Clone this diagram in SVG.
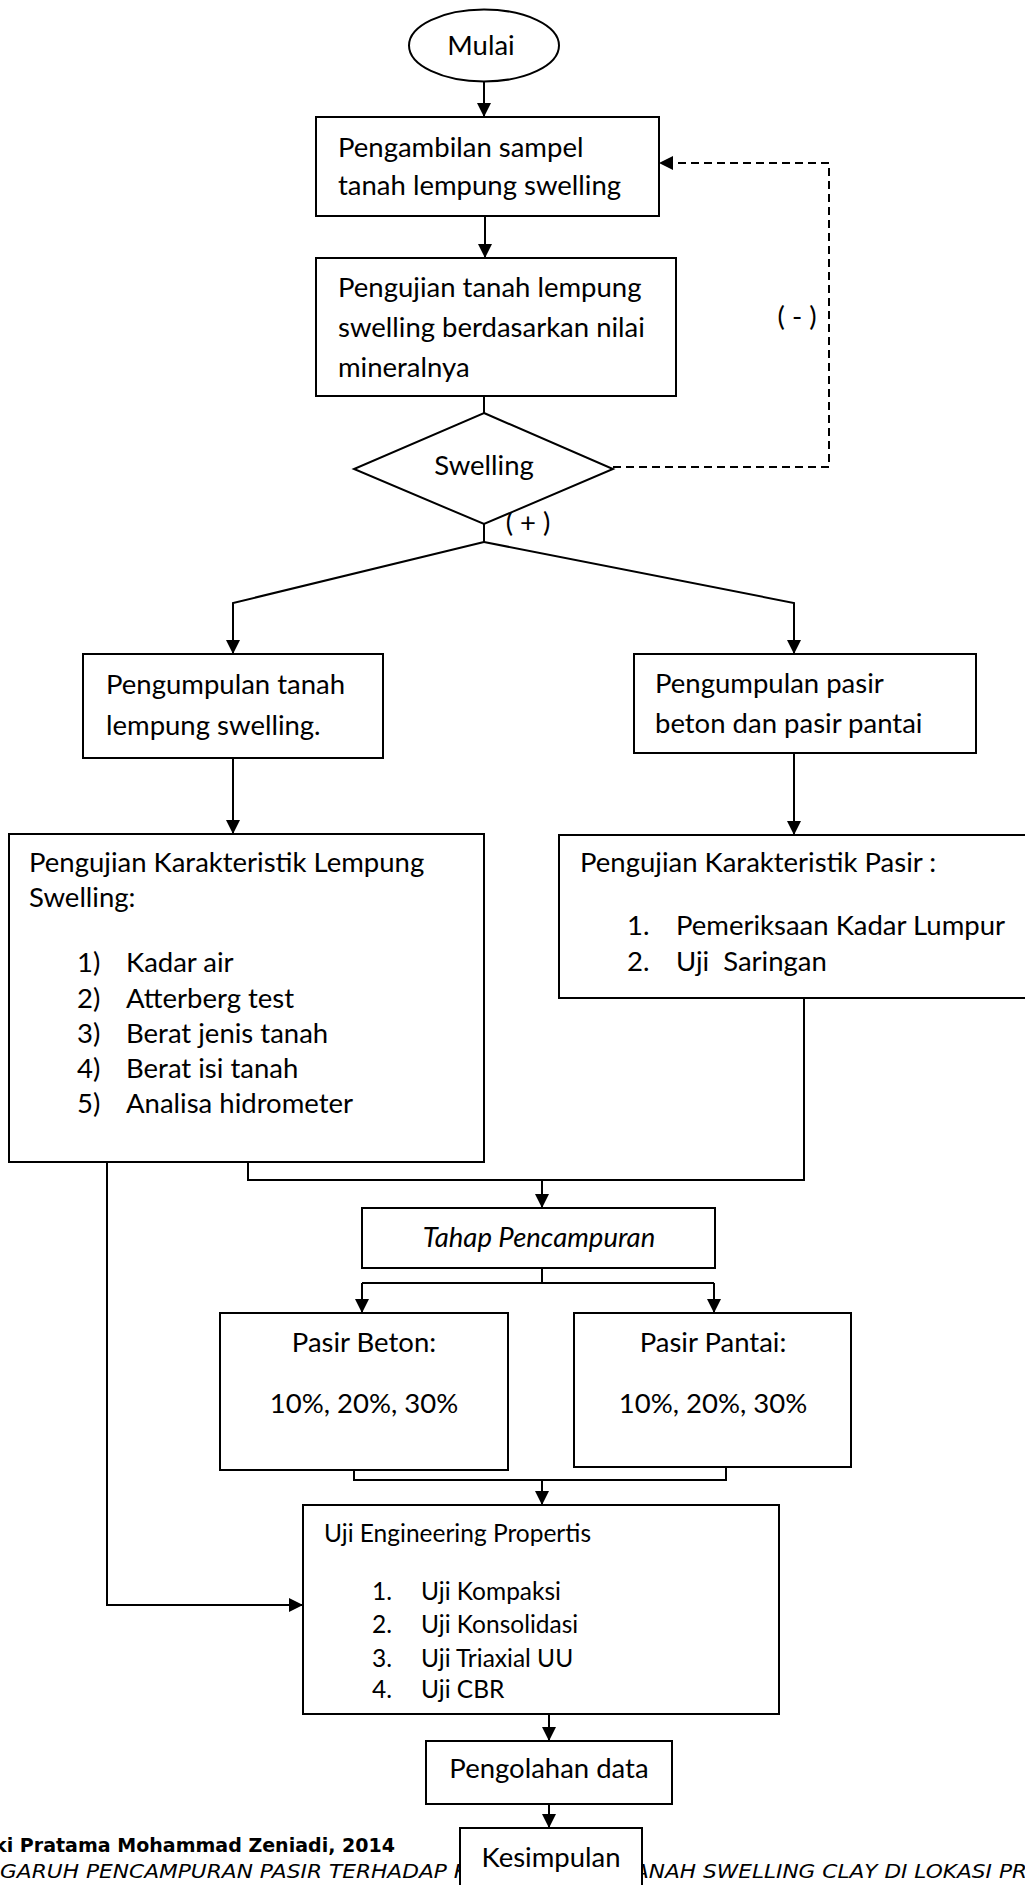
<svg xmlns="http://www.w3.org/2000/svg" width="1025" height="1885" viewBox="0 0 1025 1885">
<style>
.t{font-family:Lato,"Liberation Sans",sans-serif;font-size:27.5px;fill:#000}
.s{font-size:24.5px}
.c{text-anchor:middle}
.box{fill:#fff;stroke:#000;stroke-width:2}
.ln{fill:none;stroke:#000;stroke-width:2}
.dash{fill:none;stroke:#000;stroke-width:2;stroke-dasharray:8 5}
.ft{font-family:"DejaVu Sans",Verdana,sans-serif;fill:#000}
</style>
<defs>
<marker id="ah" viewBox="0 0 14 14" refX="14" refY="7" markerWidth="14" markerHeight="14" markerUnits="userSpaceOnUse" orient="auto">
<path d="M0,0 L14,7 L0,14 z" fill="#000"/>
</marker>
</defs>
<rect width="1025" height="1885" fill="#fff"/>

<g id="footer">
<text class="ft" x="-6" y="1852" font-size="20" font-weight="bold" textLength="401" lengthAdjust="spacingAndGlyphs">ki Pratama Mohammad Zeniadi, 2014</text>
<text class="ft" x="0" y="1878" font-size="20" font-style="italic" textLength="468" lengthAdjust="spacingAndGlyphs">GARUH PENCAMPURAN PASIR TERHADAP K</text>
<text class="ft" x="634" y="1878" font-size="20" font-style="italic" textLength="393" lengthAdjust="spacingAndGlyphs">ANAH SWELLING CLAY DI LOKASI PR</text>
</g>

<g id="connectors">
<path class="ln" d="M484,82 V117" marker-end="url(#ah)"/>
<path class="ln" d="M485,216 V258" marker-end="url(#ah)"/>
<path class="ln" d="M484,396 V413"/>
<path class="dash" d="M613,467 H829 V163 H659" marker-end="url(#ah)"/>
<path class="ln" d="M484,524 V542"/>
<path class="ln" d="M484,542 L233,603 V654" marker-end="url(#ah)"/>
<path class="ln" d="M484,542 L794,603 V654" marker-end="url(#ah)"/>
<path class="ln" d="M233,758 V834" marker-end="url(#ah)"/>
<path class="ln" d="M794,753 V835" marker-end="url(#ah)"/>
<path class="ln" d="M248,1162 V1180 H804 V998"/>
<path class="ln" d="M542,1180 V1208" marker-end="url(#ah)"/>
<path class="ln" d="M542,1268 V1283"/>
<path class="ln" d="M362,1283 H714"/>
<path class="ln" d="M362,1283 V1313" marker-end="url(#ah)"/>
<path class="ln" d="M714,1283 V1313" marker-end="url(#ah)"/>
<path class="ln" d="M354,1470 V1480 H726 V1467"/>
<path class="ln" d="M542,1480 V1505" marker-end="url(#ah)"/>
<path class="ln" d="M107,1162 V1605 H303" marker-end="url(#ah)"/>
<path class="ln" d="M549,1714 V1741" marker-end="url(#ah)"/>
<path class="ln" d="M549,1804 V1828" marker-end="url(#ah)"/>
<text class="t c" x="797" y="326">( - )</text>
<text class="t c" x="528" y="532">( + )</text>
</g>

<g id="mulai">
<ellipse class="box" cx="484" cy="45.5" rx="75" ry="36"/>
<text class="t c" x="481" y="55">Mulai</text>
</g>

<g id="pengambilan">
<rect class="box" x="316" y="117" width="343" height="99"/>
<text class="t" x="338" y="157">Pengambilan sampel</text>
<text class="t" x="338" y="195">tanah lempung swelling</text>
</g>

<g id="pengujian-mineral">
<rect class="box" x="316" y="258" width="360" height="138"/>
<text class="t" x="338" y="297">Pengujian tanah lempung</text>
<text class="t" x="338" y="337">swelling berdasarkan nilai</text>
<text class="t" x="338" y="377">mineralnya</text>
</g>

<g id="swelling">
<polygon class="box" points="484,413 613,469 484,524 354,469"/>
<text class="t c" x="484" y="475">Swelling</text>
</g>

<g id="pengumpulan-tanah">
<rect class="box" x="83" y="654" width="300" height="104"/>
<text class="t" x="106" y="694">Pengumpulan tanah</text>
<text class="t" x="106" y="735">lempung swelling.</text>
</g>

<g id="pengumpulan-pasir">
<rect class="box" x="634" y="654" width="342" height="99"/>
<text class="t" x="655" y="693">Pengumpulan pasir</text>
<text class="t" x="655" y="733">beton dan pasir pantai</text>
</g>

<g id="karakteristik-lempung">
<rect class="box" x="9" y="834" width="475" height="328"/>
<text class="t" x="29" y="872">Pengujian Karakteristik Lempung</text>
<text class="t" x="29" y="907">Swelling:</text>
<text class="t" x="77" y="972">1)</text><text class="t" x="126" y="972">Kadar air</text>
<text class="t" x="77" y="1008">2)</text><text class="t" x="126" y="1008">Atterberg test</text>
<text class="t" x="77" y="1043">3)</text><text class="t" x="126" y="1043">Berat jenis tanah</text>
<text class="t" x="77" y="1078">4)</text><text class="t" x="126" y="1078">Berat isi tanah</text>
<text class="t" x="77" y="1113">5)</text><text class="t" x="126" y="1113">Analisa hidrometer</text>
</g>

<g id="karakteristik-pasir">
<rect class="box" x="559" y="835" width="480" height="163"/>
<text class="t" x="580" y="872">Pengujian Karakteristik Pasir :</text>
<text class="t" x="627" y="935">1.</text><text class="t" x="676" y="935">Pemeriksaan Kadar Lumpur</text>
<text class="t" x="627" y="971">2.</text><text class="t" x="676" y="971" style="white-space:pre">Uji  Saringan</text>
</g>

<g id="tahap-pencampuran">
<rect class="box" x="362" y="1208" width="353" height="60"/>
<text class="t c" x="539" y="1247" font-style="italic" font-size="28.5">Tahap Pencampuran</text>
</g>

<g id="pasir-beton">
<rect class="box" x="220" y="1313" width="288" height="157"/>
<text class="t c" x="364" y="1352">Pasir Beton:</text>
<text class="t c" x="364" y="1413">10%, 20%, 30%</text>
</g>

<g id="pasir-pantai">
<rect class="box" x="574" y="1313" width="277" height="154"/>
<text class="t c" x="713" y="1352">Pasir Pantai:</text>
<text class="t c" x="713" y="1413">10%, 20%, 30%</text>
</g>

<g id="uji-engineering">
<rect class="box" x="303" y="1505" width="476" height="209"/>
<text class="t s" x="324" y="1542">Uji Engineering Propertis</text>
<text class="t s" x="372" y="1600">1.</text><text class="t s" x="421" y="1600">Uji Kompaksi</text>
<text class="t s" x="372" y="1633">2.</text><text class="t s" x="421" y="1633">Uji Konsolidasi</text>
<text class="t s" x="372" y="1667">3.</text><text class="t s" x="421" y="1667">Uji Triaxial UU</text>
<text class="t s" x="372" y="1698">4.</text><text class="t s" x="421" y="1698">Uji CBR</text>
</g>

<g id="pengolahan">
<rect class="box" x="426" y="1741" width="246" height="63"/>
<text class="t c" x="549" y="1778">Pengolahan data</text>
</g>

<g id="kesimpulan">
<rect class="box" x="460" y="1828" width="182" height="80"/>
<text class="t c" x="551" y="1867">Kesimpulan</text>
</g>
</svg>
